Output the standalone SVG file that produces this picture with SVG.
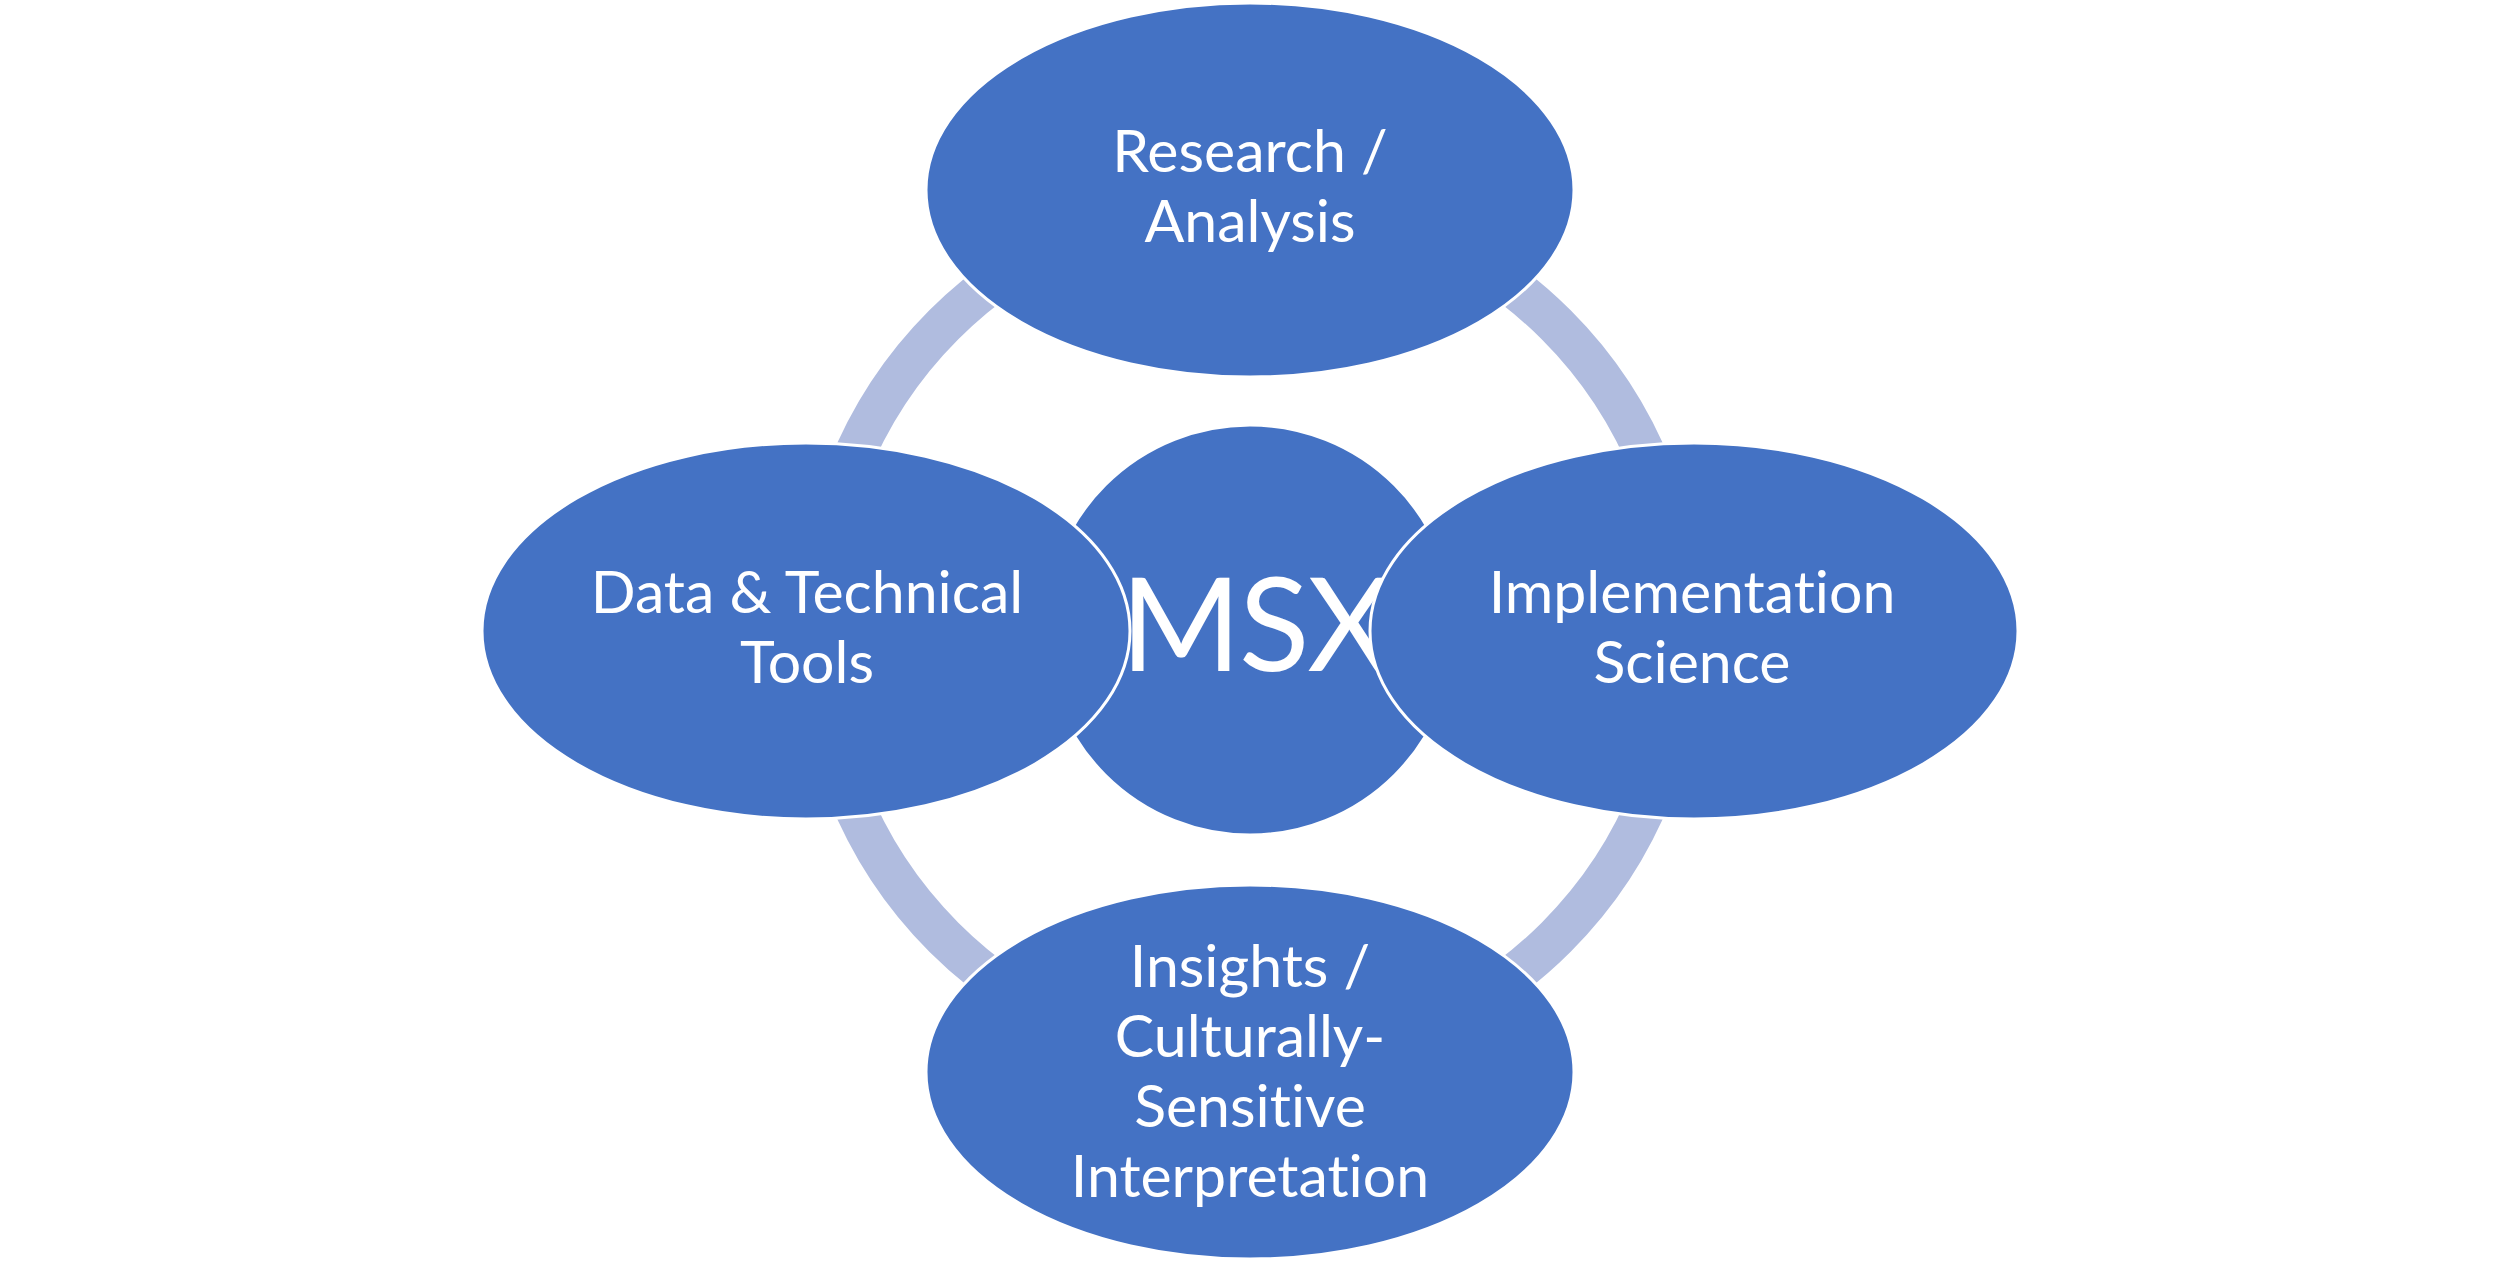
<svg xmlns="http://www.w3.org/2000/svg" width="2500" height="1262" viewBox="0 0 2500 1262">
<style>
.node{fill:#4472C4;stroke:#FFFFFF;stroke-width:3}
.lbl{fill:#FFFFFF;font-family:Lato,"Open Sans","Liberation Sans",sans-serif;font-size:59px;text-anchor:middle;font-variant-ligatures:none;font-feature-settings:"liga" 0}
.big{font-size:130px;letter-spacing:-2px}
.ring{fill:none;stroke:#B0BCDF;stroke-width:41}
</style>
<rect width="2500" height="1262" fill="#FFFFFF"/>
<g id="connectors">
<circle class="ring" cx="1250" cy="631" r="433"/>
</g>
<g id="node-msx">
<circle class="node" cx="1250" cy="630" r="205"/>
<text class="lbl big" x="1255" y="671">MSX</text>
</g>
<g id="node-research">
<ellipse class="node" cx="1250" cy="190" rx="324" ry="187"/>
<text class="lbl" x="1250" y="172">Research /</text>
<text class="lbl" x="1250" y="242">Analysis</text>
</g>
<g id="node-data">
<ellipse class="node" cx="806" cy="631" rx="324" ry="188"/>
<text class="lbl" x="807" y="613">Data &amp; Technical</text>
<text class="lbl" x="807" y="683">Tools</text>
</g>
<g id="node-implementation">
<ellipse class="node" cx="1694" cy="631" rx="324" ry="188"/>
<text class="lbl" x="1692" y="613">Implementation</text>
<text class="lbl" x="1692" y="683">Science</text>
</g>
<g id="node-insights">
<ellipse class="node" cx="1250" cy="1072" rx="324" ry="187"/>
<text class="lbl" x="1250" y="987">Insights /</text>
<text class="lbl" x="1250" y="1057">Culturally-</text>
<text class="lbl" x="1250" y="1127">Sensitive</text>
<text class="lbl" x="1250" y="1197">Interpretation</text>
</g>
</svg>
